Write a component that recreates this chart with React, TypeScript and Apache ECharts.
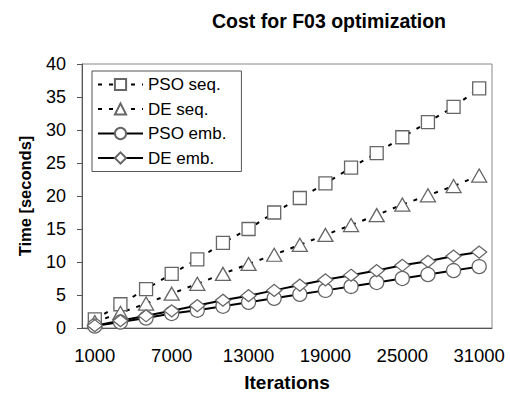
import React, { useEffect, useRef } from "react";
import * as echarts from "echarts";

const iterations = ["1000","3000","5000","7000","9000","11000","13000","15000","17000","19000","21000","23000","25000","27000","29000","31000"];
const psoSeq = [1.3, 3.6, 5.9, 8.2, 10.4, 12.9, 15.0, 17.5, 19.7, 21.9, 24.3, 26.5, 28.9, 31.2, 33.5, 36.3];
const deSeq = [0.9, 2.3, 3.7, 5.2, 6.7, 8.2, 9.7, 11.1, 12.6, 14.1, 15.6, 17.1, 18.7, 20.1, 21.5, 23.1];
const psoEmb = [0.3, 0.9, 1.5, 2.2, 2.7, 3.3, 3.9, 4.5, 5.1, 5.7, 6.3, 6.9, 7.5, 8.1, 8.7, 9.3];
const deEmb = [0.35, 1.1, 1.85, 2.6, 3.4, 4.2, 4.9, 5.7, 6.5, 7.3, 8.0, 8.7, 9.5, 10.1, 10.9, 11.5];

const FONT = "'Liberation Sans', Arial, sans-serif";

export default function App() {
  const ref = useRef<HTMLDivElement>(null);
  useEffect(() => {
    if (!ref.current) return;
    const chart = echarts.init(ref.current, undefined, { renderer: "svg" });
    const mk = (name: string, data: number[], symbol: string, size: any, dashed: boolean) => ({
      name,
      type: "line",
      data,
      symbol,
      symbolSize: size,
      showAllSymbol: true,
      lineStyle: { color: "#000", width: 2, type: dashed ? [4, 7] : "solid" },
      itemStyle: { color: "#fff", borderColor: "#666", borderWidth: 1.3 },
      emphasis: { disabled: true },
    });
    chart.setOption({
      animation: false,
      backgroundColor: "#fff",
      title: {
        text: "Cost for F03 optimization",
        left: 324,
        top: 6,
        textAlign: "center",
        textStyle: { fontFamily: FONT, fontSize: 19.5, fontWeight: "bold", color: "#000" },
      },
      legend: {
        orient: "vertical",
        left: 92,
        top: 71,
        itemWidth: 45,
        itemHeight: 14,
        itemGap: 7.5,
        padding: [5, 15, 5, 5],
        borderColor: "#555",
        borderWidth: 1,
        backgroundColor: "#fff",
        textStyle: { fontFamily: FONT, fontSize: 17, color: "#000" },
        data: ["PSO seq.", "DE seq.", "PSO emb.", "DE emb."],
      },
      grid: {
        left: 82, right: 18, top: 64, bottom: 66,
        show: true, borderColor: "#888", borderWidth: 1,
        outerBoundsMode: "none",
        containLabel: false,
      },
      xAxis: {
        type: "category",
        data: iterations,
        boundaryGap: true,
        name: "Iterations",
        nameLocation: "middle",
        nameGap: 45,
        nameTextStyle: { fontFamily: FONT, fontSize: 19, fontWeight: "bold", color: "#000" },
        axisLine: { lineStyle: { color: "#555", width: 1 } },
        axisTick: { interval: 0, length: 5, lineStyle: { color: "#555" } },
        axisLabel: { interval: 2, fontFamily: FONT, fontSize: 18.5, color: "#000", margin: 27, verticalAlign: "middle" },
        splitLine: { show: false },
      },
      yAxis: {
        type: "value",
        min: 0,
        max: 40,
        interval: 5,
        name: "Time [seconds]",
        nameLocation: "middle",
        nameGap: 49,
        nameTextStyle: { fontFamily: FONT, fontSize: 16.5, fontWeight: "bold", color: "#000" },
        axisLine: { show: true, lineStyle: { color: "#555", width: 1 } },
        axisTick: { show: true, length: 5, lineStyle: { color: "#555" } },
        axisLabel: { fontFamily: FONT, fontSize: 18, color: "#000", margin: 16 },
        splitLine: { show: false },
      },
      series: [
        mk("PSO seq.", psoSeq, "rect", 13, true),
        mk("DE seq.", deSeq, "triangle", [15, 13], true),
        mk("PSO emb.", psoEmb, "circle", 14, false),
        mk("DE emb.", deEmb, "diamond", [15, 12], false),
      ],
    });
    return () => chart.dispose();
  }, []);
  return <div ref={ref} style={{ position: "absolute", left: 0, top: 0, width: 510, height: 394 }} />;
}
